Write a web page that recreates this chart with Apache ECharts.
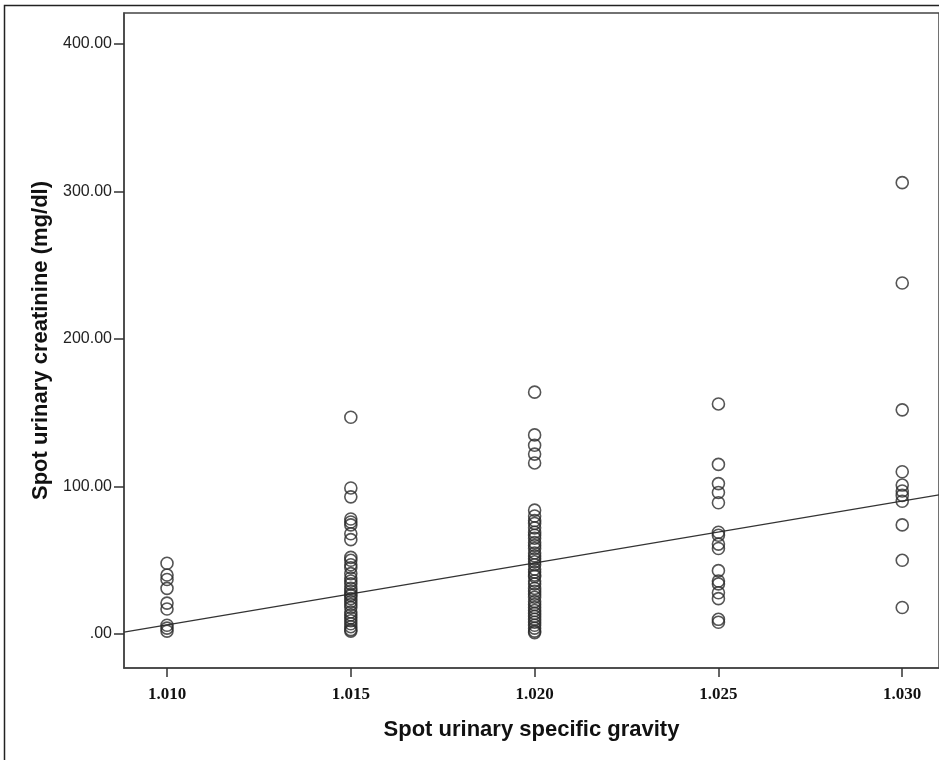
<!DOCTYPE html>
<html>
<head>
<meta charset="utf-8">
<script src="https://cdn.jsdelivr.net/npm/echarts@6/dist/echarts.min.js"></script>
<style>
  html, body { margin: 0; padding: 0; background: #fff; }
  #chart { width: 939px; height: 760px; }
</style>
</head>
<body>
<div id="chart"></div>
<script>
// specific gravity levels (x) and creatinine values (mg/dl)
var gravityLevels = [1.010, 1.015, 1.020, 1.025, 1.030];
var creat1010 = [48, 40, 37, 31, 21, 17, 6, 4, 2];
var creat1015 = [147, 99, 93, 78, 76, 74, 68, 64, 52, 50, 47, 45, 41, 38, 36, 34, 31, 29, 27, 26, 24, 22, 20, 18, 15, 13, 11, 9, 7, 5, 3, 2];
var creat1020 = [164, 135, 128, 122, 116, 84, 80, 77, 75, 72, 69, 67, 65, 62, 60, 58, 55, 53, 51, 49, 47, 44, 42, 40, 39, 36, 34, 31, 29, 27, 25, 22, 20, 18, 16, 14, 12, 10, 8, 6, 4, 2, 1];
var creat1025 = [156, 115, 102, 96, 89, 69, 67, 61, 58, 43, 36, 34, 28, 24, 10, 8];
var creat1030 = [306, 238, 152, 110, 101, 97, 94, 90, 74, 50, 18];
var columns = [creat1010, creat1015, creat1020, creat1025, creat1030];

// fitted line: creatinine = fitSlope * (sg - fitCenter) + fitAtCenter
var fitSlope = 4200;
var fitCenter = 1.020;
var fitAtCenter = 48.2;

var xTicks = [1.010, 1.015, 1.020, 1.025, 1.030];
var yTicks = [0, 100, 200, 300, 400];
var xMin = 1.00883, xMax = 1.0310;
var yMin = -23, yMax = 421;

var points = [];
for (var i = 0; i < gravityLevels.length; i++) {
    for (var j = 0; j < columns[i].length; j++) {
        points.push([gravityLevels[i], columns[i][j]]);
    }
}
var fitLine = [xMin, xMax].map(function (x) {
    return [x, fitSlope * (x - fitCenter) + fitAtCenter];
});

var chart = echarts.init(document.getElementById('chart'));
chart.setOption({
    animation: false,
    backgroundColor: '#fff',
    graphic: [{
        type: 'rect',
        shape: { x: 4.5, y: 5.5, width: 960, height: 800 },
        style: { fill: 'none', stroke: '#222', lineWidth: 1.5 },
        z: -1
    }],
    grid: {
        left: 124, top: 13, right: -2, bottom: 92,
        show: true, borderColor: '#444', borderWidth: 1.5
    },
    xAxis: {
        type: 'value',
        min: xMin, max: xMax,
        name: 'Spot urinary specific gravity',
        nameLocation: 'middle',
        nameGap: 51,
        nameTextStyle: { fontFamily: 'Liberation Sans', fontWeight: 'bold', fontSize: 22, color: '#111' },
        axisLine: { show: true, onZero: false, lineStyle: { color: '#444', width: 1.5 } },
        axisTick: { show: true, length: 9, customValues: xTicks, lineStyle: { color: '#333', width: 1.5 } },
        axisLabel: {
            customValues: xTicks,
            margin: 18,
            fontFamily: 'Liberation Serif', fontWeight: 'bold', fontSize: 17, color: '#111',
            formatter: function (v) { return v.toFixed(3); }
        },
        splitLine: { show: false }
    },
    yAxis: {
        type: 'value',
        min: yMin, max: yMax,
        name: 'Spot urinary creatinine (mg/dl)',
        nameLocation: 'middle',
        nameGap: 72,
        nameTextStyle: { fontFamily: 'Liberation Sans', fontWeight: 'bold', fontSize: 22, color: '#111' },
        axisLine: { show: true, onZero: false, lineStyle: { color: '#444', width: 1.5 } },
        axisTick: { show: true, length: 10, customValues: yTicks, lineStyle: { color: '#333', width: 1.5 } },
        axisLabel: {
            customValues: yTicks,
            margin: 12,
            fontFamily: 'Liberation Sans', fontSize: 16, color: '#222',
            formatter: function (v) { return v === 0 ? '.00' : v.toFixed(2); }
        },
        splitLine: { show: false }
    },
    series: [{
        type: 'line',
        data: fitLine,
        symbol: 'none',
        lineStyle: { color: '#333', width: 1.3 },
        z: 1
    }, {
        type: 'scatter',
        data: points,
        symbol: 'circle',
        symbolSize: 12,
        itemStyle: { color: 'rgba(0,0,0,0)', borderColor: '#2a2a2a', borderWidth: 1.6 },
        z: 2
    }]
});
</script>
</body>
</html>
